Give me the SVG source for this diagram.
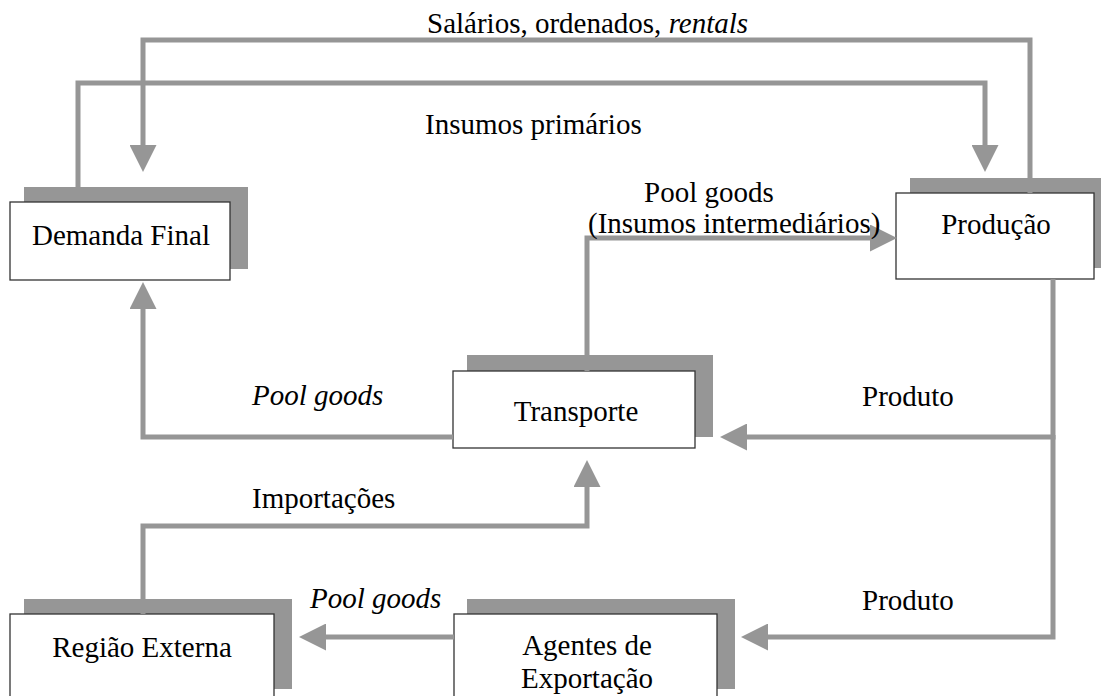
<svg xmlns="http://www.w3.org/2000/svg" width="1101" height="696" viewBox="0 0 1101 696">
<style>
.sh{fill:#969696}
.bx{fill:#fff;stroke:#333;stroke-width:1.3}
.t{font-family:"Liberation Serif","Times New Roman",serif;font-size:29px;fill:#000}
.i{font-style:italic}
.c{fill:none;stroke:#969696;stroke-width:5;marker-end:url(#ah)}
.n{fill:none;stroke:#969696;stroke-width:5}
</style>
<defs>
<marker id="ah" markerUnits="userSpaceOnUse" viewBox="0 0 27 27" refX="0" refY="13.5" markerWidth="27" markerHeight="27" orient="auto">
<path d="M0,0 L27,13.5 L0,27 Z" fill="#969696"/>
</marker>
</defs>
<rect width="1101" height="696" fill="#fff"/>
<g id="demanda-final">
<rect class="sh" x="24" y="187" width="224" height="82"/>
<rect class="bx" x="10" y="202" width="220" height="78"/>
<text class="t" x="121" y="245" text-anchor="middle">Demanda Final</text>
</g>
<g id="producao">
<rect class="sh" x="910" y="178" width="200" height="90"/>
<rect class="bx" x="896" y="193" width="198" height="86"/>
<text class="t" x="996" y="234" text-anchor="middle">Produção</text>
</g>
<g id="transporte">
<rect class="sh" x="467" y="355" width="246" height="82"/>
<rect class="bx" x="453" y="371" width="242" height="77"/>
<text class="t" x="576" y="421" text-anchor="middle">Transporte</text>
</g>
<g id="regiao-externa">
<rect class="sh" x="24" y="599" width="268" height="90"/>
<rect class="bx" x="10" y="614" width="264" height="90"/>
<text class="t" x="142" y="657" text-anchor="middle">Região Externa</text>
</g>
<g id="agentes-exportacao">
<rect class="sh" x="467" y="599" width="268" height="90"/>
<rect class="bx" x="454" y="614" width="263" height="90"/>
<text class="t" x="587" y="655" text-anchor="middle">Agentes de</text>
<text class="t" x="587" y="688" text-anchor="middle">Exportação</text>
</g>
<g id="connectors">
<path class="c" d="M1030,193 V40 H143 V145"/>
<path class="c" d="M78,187 V83 H985 V145"/>
<path class="c" d="M587,371 V238 H870"/>
<path class="c" d="M453,437 H143 V309"/>
<path class="c" d="M1053,279 V437 H747"/>
<path class="c" d="M1053,435 V637 H768"/>
<path class="c" d="M143,614 V526 H587 V487"/>
<path class="c" d="M454,637 H326"/>
</g>
<g id="labels">
<text class="t" x="427" y="33">Salários, ordenados, <tspan class="i">rentals</tspan></text>
<text class="t" x="425" y="134">Insumos primários</text>
<text class="t" x="644" y="202">Pool goods</text>
<text class="t" x="588" y="233">(Insumos intermediários)</text>
<text class="t i" x="252" y="405">Pool goods</text>
<text class="t" x="862" y="406">Produto</text>
<text class="t" x="252" y="508">Importações</text>
<text class="t i" x="310" y="608">Pool goods</text>
<text class="t" x="862" y="610">Produto</text>
</g>
</svg>
